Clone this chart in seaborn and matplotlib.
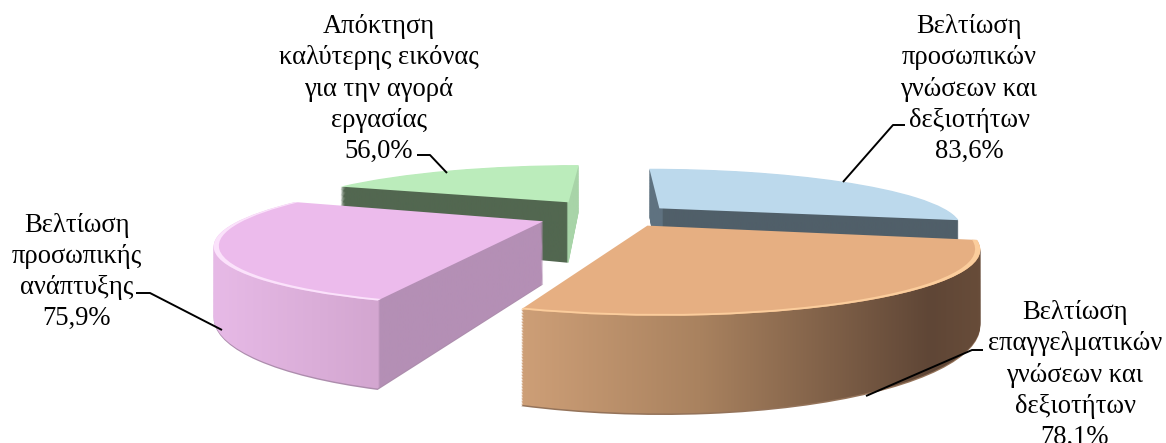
import numpy as np
import matplotlib
matplotlib.use("Agg")
import matplotlib.pyplot as plt
import matplotlib.transforms as mtransforms
from matplotlib.colors import LinearSegmentedColormap
from matplotlib.patches import Wedge
import seaborn as sns

categories = ["Βελτίωση\nπροσωπικών\nγνώσεων και\nδεξιοτήτων",
              "Βελτίωση\nεπαγγελματικών\nγνώσεων και\nδεξιοτήτων",
              "Βελτίωση\nπροσωπικής\nανάπτυξης",
              "Απόκτηση\nκαλύτερης εικόνας\nγια την αγορά\nεργασίας"]
values = [83.6, 78.1, 75.9, 56.0]
value_labels = ["83,6%", "78,1%", "75,9%", "56,0%"]

top_colors = ["#BCD9EC", "#E6AF82", "#ECBBEC", "#BBECBB"]
rim_colors = [None, "#FBCD9C", "#FBE2FB", None]
edge_colors = [None, "#94735A", "#AD8DAD", None]
explode = [0.20, 0.21, 0.26, 0.30]
depths = [65, 63, 60, 65]
draw_order = [3, 0, 2, 1]

# wall colours, left to right across the picture: (x pixel, colour)
wall_stops = [[(630, "#5F7280"), (662, "#5F7280"), (663, "#505F69"), (990, "#505F69")],
              [(515, "#CFA078"), (700, "#A9825F"), (930, "#5F4636"), (995, "#6A4E3A")],
              [(195, "#E9BCE9"), (378, "#D3A6D0"), (380, "#B48FB5"), (560, "#B48FB5")],
              [(310, "#526750"), (567, "#526750"), (568, "#A8D4A8"), (600, "#A8D4A8")]]

label_pos = [(969, 89), (1075, 375), (77, 272), (379, 89)]
leaders = [[(843, 182), (893, 125), (905, 125)],
           [(866, 396), (972, 350), (983, 350)],
           [(222, 330), (150, 293), (136, 293)],
           [(447, 173), (430, 155), (417, 155)]]

CX, CY = 615, 215
RX, RY = 295, 55
K = 0.3


class Persp(mtransforms.Transform):
    input_dims = output_dims = 2

    def __init__(self, z):
        super().__init__()
        self.z = z

    def transform_non_affine(self, xy):
        xy = np.asarray(xy)
        w = 1 + K * xy[:, 1]
        return np.column_stack((CX + RX * xy[:, 0] / w,
                                CY - RY * xy[:, 1] / w + self.z / w))


sns.set_theme(style="white")
plt.rcParams['font.family'] = ['Liberation Serif', 'DejaVu Serif']

fig = plt.figure(figsize=(11.66, 4.43), dpi=100)
ax = fig.add_axes([0, 0, 1, 1])
wedges, _ = ax.pie(values, explode=explode, startangle=90, counterclock=False, colors=top_colors)
ax.set_aspect('auto')
ax.axis('off')
for w in wedges:
    w.set_visible(False)


def layer(w, z, color, zo, width=None):
    p = Wedge(w.center, w.r, w.theta1, w.theta2, width=width, facecolor=color, edgecolor='none', zorder=zo)
    ax.add_patch(p)
    p.set_transform(Persp(z) + ax.transData)
    return p


zo = 2
for i in draw_order:
    w = wedges[i]
    stops = wall_stops[i]
    x0, x1 = stops[0][0], stops[-1][0]
    cmap = LinearSegmentedColormap.from_list(
        "wall%d" % i, [((x - x0) / (x1 - x0), c) for x, c in stops], N=512)
    grad = np.linspace(0, 1, 512).reshape(1, -1)
    if edge_colors[i]:
        layer(w, depths[i] + 1, edge_colors[i], zo)
        zo += 1
    for z in np.arange(depths[i], 0, -1.0):
        clip = layer(w, z, 'none', zo)
        im = ax.imshow(grad, cmap=cmap, extent=(x0, x1, 443, 0), aspect='auto', zorder=zo)
        im.set_clip_path(clip)
        zo += 1
    layer(w, 0, top_colors[i], zo)
    zo += 1
    if rim_colors[i]:
        layer(w, 0, rim_colors[i], zo, width=0.014)
        zo += 1

ax.set_xlim(0, 1166)
ax.set_ylim(443, 0)

for i, name in enumerate(categories):
    ax.text(label_pos[i][0], label_pos[i][1], name + "\n" + value_labels[i], ha='center', va='center',
            fontsize=19.2, linespacing=1.32, color='black', zorder=zo + 1, clip_on=False)
    xs, ys = zip(*leaders[i])
    ax.plot(xs, ys, color='black', lw=1.4, zorder=zo + 1, solid_capstyle='butt')

fig.savefig("out.png", dpi=100)
